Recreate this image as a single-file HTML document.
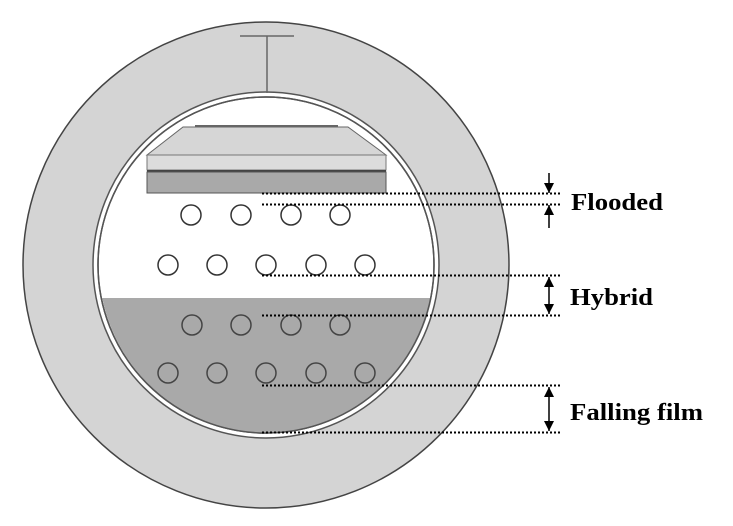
<!DOCTYPE html>
<html><head><meta charset="utf-8"><style>body{margin:0;background:#fff}svg{display:block}</style></head><body>
<svg width="733" height="526" viewBox="0 0 733 526" xmlns="http://www.w3.org/2000/svg">
<defs><clipPath id="c"><circle cx="267" cy="265" r="168"/></clipPath>
<marker id="a" viewBox="0 0 10 10" refX="10" refY="5" markerWidth="11" markerHeight="10" markerUnits="userSpaceOnUse" orient="auto"><path d="M0,0L10,5L0,10z" fill="#000"/></marker></defs>
<circle cx="266" cy="265" r="243" fill="#d4d4d4" stroke="#444" stroke-width="1.5"/>
<circle cx="266" cy="265" r="173" fill="#fff" stroke="#555" stroke-width="1.5"/>
<circle cx="266" cy="265" r="168" fill="#fff" stroke="#555" stroke-width="1.5"/>
<rect x="90" y="298" width="360" height="200" fill="#a9a9a9" clip-path="url(#c)"/>
<circle cx="266" cy="265" r="168" fill="none" stroke="#555" stroke-width="1.5"/>
<line x1="240" y1="36" x2="294" y2="36" stroke="#666" stroke-width="1.5"/>
<line x1="267" y1="36" x2="267" y2="93" stroke="#666" stroke-width="1.5"/>
<rect x="195" y="125" width="143" height="3" fill="#666"/>
<polygon points="183,127 348,127 386,155 147,155" fill="#d6d6d6" stroke="#666" stroke-width="1"/>
<rect x="147" y="155" width="239" height="15" fill="#dcdcdc" stroke="#777" stroke-width="1"/>
<rect x="147" y="170" width="239" height="2" fill="#444"/>
<rect x="147" y="172" width="239" height="21" fill="#a9a9a9" stroke="#555" stroke-width="1"/>
<g fill="none" stroke="#333" stroke-width="1.5">
<circle cx="191" cy="215" r="10"/><circle cx="241" cy="215" r="10"/><circle cx="291" cy="215" r="10"/><circle cx="340" cy="215" r="10"/>
<circle cx="168" cy="265" r="10"/><circle cx="217" cy="265" r="10"/><circle cx="266" cy="265" r="10"/><circle cx="316" cy="265" r="10"/><circle cx="365" cy="265" r="10"/>
<circle cx="192" cy="325" r="10" stroke="#444"/><circle cx="241" cy="325" r="10" stroke="#444"/><circle cx="291" cy="325" r="10" stroke="#444"/><circle cx="340" cy="325" r="10" stroke="#444"/>
<circle cx="168" cy="373" r="10" stroke="#444"/><circle cx="217" cy="373" r="10" stroke="#444"/><circle cx="266" cy="373" r="10" stroke="#444"/><circle cx="316" cy="373" r="10" stroke="#444"/><circle cx="365" cy="373" r="10" stroke="#444"/>
</g>
<g stroke="#000" stroke-width="2" stroke-dasharray="2,2">
<line x1="262" y1="193.5" x2="562" y2="193.5"/><line x1="262" y1="204.5" x2="562" y2="204.5"/>
<line x1="262" y1="275.5" x2="562" y2="275.5"/><line x1="262" y1="315.5" x2="562" y2="315.5"/>
<line x1="262" y1="385.5" x2="562" y2="385.5"/><line x1="262" y1="432.5" x2="562" y2="432.5"/>
</g>
<g stroke="#000" stroke-width="1.5">
<line x1="549" y1="173" x2="549" y2="193" marker-end="url(#a)"/>
<line x1="549" y1="228" x2="549" y2="205" marker-end="url(#a)"/>
<line x1="549" y1="295" x2="549" y2="277" marker-end="url(#a)"/>
<line x1="549" y1="295" x2="549" y2="314" marker-end="url(#a)"/>
<line x1="549" y1="408" x2="549" y2="387" marker-end="url(#a)"/>
<line x1="549" y1="408" x2="549" y2="431" marker-end="url(#a)"/>
</g>
<g font-family="Liberation Serif, serif" font-weight="bold" font-size="24" fill="#000">
<text x="571" y="210" textLength="92" lengthAdjust="spacingAndGlyphs">Flooded</text>
<text x="570" y="305" textLength="83" lengthAdjust="spacingAndGlyphs">Hybrid</text>
<text x="570" y="420" textLength="133" lengthAdjust="spacingAndGlyphs">Falling film</text>
</g>
</svg>
</body></html>
